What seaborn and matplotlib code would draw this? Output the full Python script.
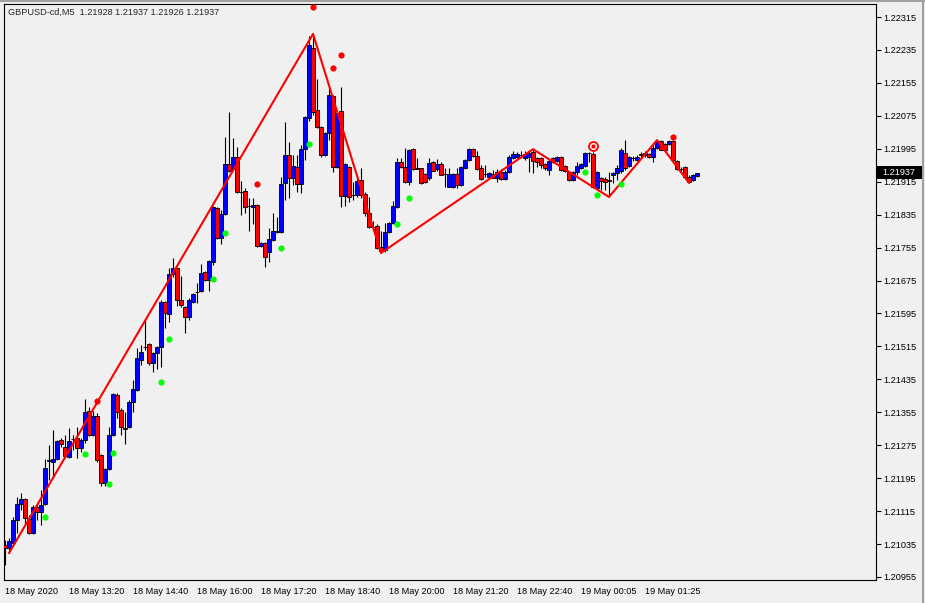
import numpy as np
import pandas as pd
import matplotlib
matplotlib.use("Agg")
import matplotlib.pyplot as plt
import seaborn as sns
from matplotlib.transforms import blended_transform_factory
from matplotlib.patches import Rectangle
from matplotlib.lines import Line2D

# GBPUSD M5 candles, prices in points (1e-5)
open_pts = [121033, 121025, 121038, 121093, 121132, 121144, 121096, 121062, 121125, 121113,
            121132, 121237, 121234, 121242, 121288, 121271, 121246, 121290, 121292, 121268,
            121288, 121358, 121300, 121346, 121251, 121183, 121217, 121300, 121397, 121360,
            121317, 121319, 121380, 121409, 121482, 121514, 121521, 121475, 121499, 121514,
            121623, 121594, 121691, 121706, 121628, 121611, 121586, 121623, 121647, 121650,
            121696, 121676, 121720, 121851, 121778, 121837, 121958, 121946, 121975, 121890,
            121892, 121856, 121854, 121858, 121759, 121766, 121744, 121773, 121793, 121793,
            121912, 121980, 121924, 121951, 121909, 121994, 122070, 122240, 122089, 122048,
            121980, 122033, 122123, 121951, 122087, 121880, 121951, 121883, 121883, 121919,
            121885, 121839, 121805, 121807, 121757, 121749, 121793, 121815, 121854, 121963,
            121951, 121914, 121994, 121948, 121948, 121934, 121924, 121963, 121946, 121958,
            121934, 121902, 121902, 121934, 121907, 121948, 121968, 121994, 121977, 121948,
            121934, 121926, 121934, 121924, 121939, 121922, 121939, 121973, 121975, 121980,
            121973, 121975, 121987, 121973, 121973, 121958, 121943, 121973, 121965, 121975,
            121953, 121939, 121919, 121939, 121948, 121953, 121985, 121982, 121900, 121924,
            121922, 121919, 121931, 121936, 121941, 121985, 121953, 121973, 121968, 121982,
            121980, 121982, 121975, 121997, 122014, 122007, 122007, 122014, 121965, 121946,
            121951, 121926, 121919, 121928]
high_pts = [121045, 121050, 121101, 121149, 121159, 121147, 121106, 121130, 121130, 121166,
            121242, 121276, 121312, 121288, 121292, 121300, 121317, 121300, 121319, 121292,
            121387, 121368, 121358, 121353, 121253, 121220, 121319, 121402, 121402, 121365,
            121356, 121385, 121433, 121511, 121519, 121579, 121523, 121501, 121516, 121628,
            121625, 121706, 121730, 121708, 121686, 121613, 121633, 121645, 121669, 121715,
            121698, 121725, 121856, 121854, 121846, 122024, 122084, 122021, 121999, 121917,
            121900, 121875, 121875, 121861, 121769, 121769, 121803, 121839, 121829, 121926,
            122060, 122011, 121980, 121980, 122004, 122075, 122270, 122274, 122164, 122050,
            122036, 122145, 122126, 122084, 122145, 121960, 121953, 121914, 121926, 121948,
            121890, 121878, 121820, 121812, 121795, 121815, 121817, 121868, 121973, 121973,
            121997, 121994, 121997, 121973, 121949, 121935, 121973, 121965, 121970, 121963,
            121948, 121948, 121936, 121948, 121953, 121970, 121997, 121997, 121990, 121956,
            121956, 121939, 121943, 121946, 121946, 121943, 121980, 121990, 121987, 121990,
            121990, 121992, 121994, 121975, 121975, 121960, 121968, 121975, 121977, 121977,
            121956, 121941, 121941, 121963, 121960, 121987, 121987, 121987, 121941, 121926,
            121926, 121939, 121939, 121956, 121997, 122016, 121977, 121977, 121980, 121987,
            121990, 121985, 122004, 122016, 122016, 122009, 122016, 122016, 121968, 121951,
            121953, 121931, 121934, 121937]
low_pts = [120984, 121013, 121033, 121062, 121118, 121081, 121059, 121059, 121093, 121081,
           121130, 121191, 121195, 121239, 121271, 121244, 121244, 121263, 121244, 121259,
           121280, 121297, 121297, 121234, 121176, 121176, 121215, 121297, 121341, 121300,
           121278, 121317, 121356, 121407, 121470, 121506, 121470, 121453, 121460, 121465,
           121560, 121574, 121684, 121613, 121611, 121548, 121579, 121620, 121620, 121647,
           121674, 121650, 121713, 121776, 121764, 121834, 121939, 121943, 121888, 121834,
           121839, 121795, 121812, 121757, 121757, 121708, 121720, 121771, 121790, 121790,
           121871, 121875, 121907, 121890, 121888, 121968, 122062, 122077, 122045, 121975,
           121977, 122016, 121939, 121948, 121854, 121856, 121866, 121871, 121878, 121875,
           121832, 121803, 121798, 121752, 121742, 121744, 121790, 121812, 121851, 121948,
           121912, 121907, 121943, 121946, 121909, 121912, 121919, 121941, 121941, 121931,
           121902, 121901, 121900, 121900, 121904, 121946, 121965, 121975, 121943, 121919,
           121926, 121924, 121924, 121914, 121919, 121919, 121936, 121970, 121973, 121973,
           121968, 121939, 121936, 121951, 121948, 121943, 121931, 121960, 121963, 121941,
           121939, 121917, 121917, 121931, 121946, 121951, 121963, 121900, 121897, 121895,
           121895, 121878, 121912, 121919, 121936, 121943, 121951, 121965, 121965, 121973,
           121975, 121973, 121963, 121994, 121992, 121990, 122004, 121963, 121943, 121939,
           121926, 121912, 121917, 121926]
close_pts = [121025, 121042, 121093, 121132, 121144, 121098, 121062, 121125, 121113, 121130,
             121220, 121239, 121242, 121285, 121278, 121249, 121285, 121289, 121268, 121288,
             121356, 121300, 121346, 121239, 121183, 121217, 121300, 121399, 121356, 121319,
             121314, 121380, 121411, 121487, 121501, 121513, 121475, 121499, 121514, 121623,
             121596, 121691, 121706, 121628, 121616, 121586, 121628, 121642, 121646, 121693,
             121676, 121722, 121854, 121778, 121837, 121958, 121941, 121975, 121890, 121889,
             121854, 121855, 121858, 121759, 121766, 121732, 121776, 121795, 121795, 121909,
             121980, 121924, 121953, 121909, 121994, 122072, 122247, 122084, 122048, 121980,
             122033, 122126, 121951, 122082, 121880, 121958, 121878, 121882, 121917, 121883,
             121839, 121805, 121804, 121754, 121747, 121793, 121815, 121856, 121963, 121951,
             121914, 121992, 121946, 121947, 121912, 121914, 121960, 121941, 121958, 121931,
             121933, 121934, 121934, 121907, 121951, 121968, 121994, 121977, 121946, 121922,
             121933, 121936, 121924, 121939, 121922, 121939, 121975, 121982, 121982, 121979,
             121982, 121985, 121965, 121963, 121956, 121948, 121965, 121963, 121975, 121943,
             121941, 121919, 121939, 121953, 121958, 121985, 121984, 121902, 121939, 121917,
             121914, 121917, 121936, 121948, 121992, 121948, 121975, 121972, 121975, 121981,
             121985, 121975, 121997, 122014, 121992, 121992, 122014, 121968, 121946, 121945,
             121926, 121914, 121931, 121937]

# zigzag swing points (candle index, price in points)
zz_idx = [1, 77, 94, 132, 151, 163, 171]
zz_pts = [121013, 122274, 121742, 121994, 121878, 122016, 121912]

# signal dots
red_idx = [23, 63, 77, 82, 84, 167]
red_pts = [121382, 121909, 122339, 122191, 122223, 122024]
green_idx = [10, 20, 26, 27, 39, 41, 52, 55, 69, 76, 98, 101, 145, 148, 154]
green_pts = [121101, 121254, 121181, 121256, 121429, 121533, 121679, 121790, 121754,
             122007, 121812, 121875, 121939, 121883, 121909]
ring_idx = [147]
ring_pts = [122002]

x_labels = ["18 May 2020", "18 May 13:20", "18 May 14:40", "18 May 16:00", "18 May 17:20",
            "18 May 18:40", "18 May 20:00", "18 May 21:20", "18 May 22:40", "19 May 00:05",
            "19 May 01:25"]
y_labels = ["1.22315", "1.22235", "1.22155", "1.22075", "1.21995", "1.21915", "1.21835",
            "1.21755", "1.21675", "1.21595", "1.21515", "1.21435", "1.21355", "1.21275",
            "1.21195", "1.21115", "1.21035", "1.20955"]
header = "GBPUSD-cd,M5  1.21928 1.21937 1.21926 1.21937"
last_price = "1.21937"

df = pd.DataFrame({"open": open_pts, "high": high_pts, "low": low_pts, "close": close_pts}) / 1e5
df["idx"] = np.arange(len(df))

sns.set_style("white")
plt.rcParams["font.family"] = ["Liberation Sans", "DejaVu Sans"]
bg = "#f0f0f0"
fs = 6.6

fig = plt.figure(figsize=(9.25, 6.03), dpi=100, facecolor=bg)
ax = fig.add_axes([4 / 925, 1 - 580 / 603, 872 / 925, 576 / 603])
ax.set_facecolor(bg)

# wicks
ax.vlines(df["idx"], df["low"], df["high"], color="black", linewidth=0.8, zorder=2)

# bodies
colors = np.where(df["close"] > df["open"], "#0000ff", "#ff0000")
ax.bar(df["idx"], (df["close"] - df["open"]).abs(), bottom=df[["open", "close"]].min(axis=1),
       width=0.78, color=colors, edgecolor="black", linewidth=0.6, zorder=3)

# zigzag
sns.lineplot(x=zz_idx, y=np.array(zz_pts) / 1e5, color="#ff0000", linewidth=1.5,
             ax=ax, zorder=4, legend=False)

# dots
sns.scatterplot(x=red_idx, y=np.array(red_pts) / 1e5, color="#ff0000", s=20,
                linewidth=0, ax=ax, zorder=5)
sns.scatterplot(x=green_idx, y=np.array(green_pts) / 1e5, color="#00ff00", s=20,
                linewidth=0, ax=ax, zorder=5)
ring_y = np.array(ring_pts) / 1e5
ax.scatter(ring_idx, ring_y, s=60, color="#ff0000", linewidth=0, zorder=5)
ax.scatter(ring_idx, ring_y, s=26, color="white", linewidth=0, zorder=6)
ax.scatter(ring_idx, ring_y, s=9, color="#ff0000", linewidth=0, zorder=7)

ax.set_xlim(-0.25, 217.75)
ax.set_ylim(1.209477, 1.223466)
ax.set_xlabel("")
ax.set_ylabel("")

ax.yaxis.tick_right()
ax.set_yticks([float(v) for v in y_labels], y_labels)
ax.set_xticks(range(0, 16 * len(x_labels), 16), x_labels)
for lbl in ax.get_xticklabels():
    lbl.set_horizontalalignment("left")
ax.tick_params(axis="y", direction="out", length=3.6, width=0.8, pad=1.5,
               labelsize=fs, colors="black")
ax.tick_params(axis="x", direction="out", length=3.6, width=0.8, pad=1.5,
               labelsize=fs, colors="black")
for sp in ax.spines.values():
    sp.set_visible(True)
    sp.set_color("black")
    sp.set_linewidth(0.8)

fig.text(8 / 925, 1 - 12 / 603, header, fontsize=fs, ha="left", va="center")

# current price label
trans = blended_transform_factory(ax.transAxes, ax.transData)
lp = float(last_price)
h = 0.000316
ax.add_patch(Rectangle((1.0, lp - h / 2), 46 / 872, h, transform=trans,
                       facecolor="black", edgecolor="none", clip_on=False, zorder=8))
ax.text(1.0 + 6 / 872, lp, last_price, transform=trans, color="white", fontsize=fs,
        ha="left", va="center", clip_on=False, zorder=9)

# window frame
fig.add_artist(Line2D([0, 1], [1 - 1 / 603] * 2, color="#a0a0a0", linewidth=1.5))
fig.add_artist(Line2D([1 - 2 / 925] * 2, [0, 1], color="#a0a0a0", linewidth=1.5))

fig.savefig("out.png", dpi=100, facecolor=bg)
